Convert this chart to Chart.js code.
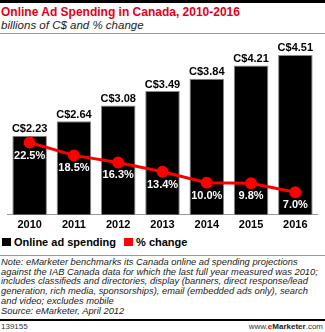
<!DOCTYPE html>
<html>
<head>
<meta charset="utf-8">
<script src="https://cdn.jsdelivr.net/npm/chart.js@4"></script>
<style>
  html, body { margin: 0; padding: 0; background: #fff; }
  body { width: 325px; height: 332px; position: relative; overflow: hidden;
         font-family: "Liberation Sans", Arial, sans-serif; color: #000; }
  .topbar { position: absolute; left: 0; top: 0; width: 325px; height: 3px; background: #000; }
  .title { position: absolute; left: 1px; top: 5px; font-size: 12px; font-weight: bold; color: #e2001a; white-space: nowrap; }
  .subtitle { position: absolute; left: 1px; top: 19px; font-size: 11.5px; font-style: italic; color: #222; white-space: nowrap; }
  .rule1 { position: absolute; left: 0; top: 33px; width: 325px; height: 1px; background: #999; }
  #wrap { position: absolute; left: 0; top: 30px; width: 325px; height: 206px; }
  .legend { position: absolute; left: 2px; top: 236px; font-size: 11px; font-weight: bold; white-space: nowrap; }
  .leg-item { display: inline-flex; align-items: center; margin-right: 8px; }
  .leg-swatch { display: inline-block; width: 9px; height: 8px; margin-right: 3px; }
  .rule2 { position: absolute; left: 0; top: 255px; width: 325px; height: 1px; background: #999; }
  .note { position: absolute; left: 1px; top: 258px; font-size: 9.35px; font-style: italic; line-height: 9.7px; color: #222; white-space: nowrap; }
  .rule3 { position: absolute; left: 0; top: 319px; width: 325px; height: 2px; background: #000; }
  .id { position: absolute; left: 1px; top: 322px; font-size: 8px; color: #333; }
  .brand { position: absolute; right: 2px; top: 322px; font-size: 8px; color: #333; }
  .brand b { color: #222; }
  .brand .e { color: #e2001a; }
</style>
</head>
<body>
<div class="topbar"></div>
<div class="title">Online Ad Spending in Canada, 2010-2016</div>
<div class="subtitle">billions of C$ and % change</div>
<div class="rule1"></div>
<div id="wrap"><canvas id="chart"></canvas></div>
<div class="legend" id="legend"></div>
<div class="rule2"></div>
<div class="note">Note: eMarketer benchmarks its Canada online ad spending projections<br>against the IAB Canada data for which the last full year measured was 2010;<br>includes classifieds and directories, display (banners, direct response/lead<br>generation, rich media, sponsorships), email (embedded ads only), search<br>and video; excludes mobile<br>Source: eMarketer, April 2012</div>
<div class="rule3"></div>
<div class="id">139155</div>
<div class="brand">www.<b class="e">e</b><b>Marketer</b>.com</div>

<script>
const years = ['2010', '2011', '2012', '2013', '2014', '2015', '2016'];
const spending = [2.23, 2.64, 3.08, 3.49, 3.84, 4.21, 4.51];
const pctChange = [22.5, 18.5, 16.3, 13.4, 10.0, 9.8, 7.0];

const RED = '#ff0000';
const FONT = '"Liberation Sans", Arial, sans-serif';

// legend
document.getElementById('legend').innerHTML = [
  ['#000', 'Online ad spending'],
  [RED, '% change'],
].map(([c, label]) =>
  `<span class="leg-item"><span class="leg-swatch" style="background:${c}"></span>${label}</span>`
).join('');

// value labels: C$ above bars, % below points
const valueLabels = {
  id: 'valueLabels',
  afterDatasetsDraw(chart) {
    const ctx = chart.ctx;
    ctx.save();
    ctx.font = 'bold 11px ' + FONT;
    ctx.textAlign = 'center';
    chart.getDatasetMeta(0).data.forEach((bar, i) => {
      ctx.fillStyle = '#000';
      ctx.textBaseline = 'bottom';
      ctx.fillText('C$' + spending[i].toFixed(2), bar.x, bar.y - 1);
    });
    chart.getDatasetMeta(1).data.forEach((pt, i) => {
      ctx.fillStyle = '#fff';
      ctx.textBaseline = 'middle';
      ctx.fillText(pctChange[i].toFixed(1) + '%', pt.x, pt.y + 13);
    });
    ctx.restore();
  }
};

new Chart(document.getElementById('chart'), {
  data: {
    labels: years,
    datasets: [
      {
        type: 'bar',
        label: 'Online ad spending',
        data: spending,
        yAxisID: 'y',
        backgroundColor: '#000',
        borderColor: '#888',
        borderWidth: 1,
        categoryPercentage: 1,
        barPercentage: 0.78,
        order: 1,
      },
      {
        type: 'line',
        label: '% change',
        data: pctChange,
        yAxisID: 'y1',
        borderColor: RED,
        backgroundColor: RED,
        borderWidth: 3,
        pointRadius: 4.5,
        pointHoverRadius: 4.5,
        tension: 0,
        order: 0,
      },
    ],
  },
  options: {
    responsive: true,
    maintainAspectRatio: false,
    animation: false,
    layout: { padding: { left: 7, right: 6, top: 3, bottom: 0 } },
    plugins: { legend: { display: false }, tooltip: { enabled: false } },
    scales: {
      x: {
        grid: { display: false, drawTicks: false },
        border: { display: true, color: '#999', width: 1 },
        ticks: { color: '#000', font: { family: FONT, size: 11, weight: 'bold' }, padding: 4 },
      },
      y: { display: false, min: 0, max: 5 },
      y1: { display: false, min: 0, max: 55.2 },
    },
  },
  plugins: [valueLabels],
});
</script>
</body>
</html>
